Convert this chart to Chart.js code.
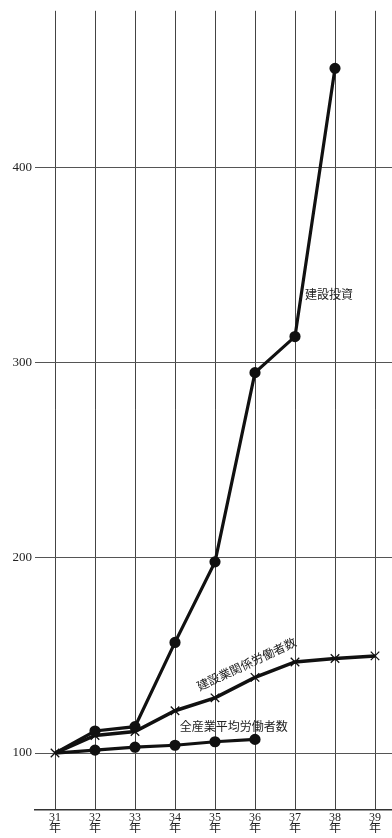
<!DOCTYPE html>
<html>
<head>
<meta charset="utf-8">
<script src="https://cdn.jsdelivr.net/npm/chart.js@4.4.0/dist/chart.umd.min.js"></script>
<style>
  html, body { margin: 0; padding: 0; background: #fff; overflow: hidden; }
  #wrap { width: 392px; height: 838px; position: relative; }
  canvas { display: block; }
</style>
</head>
<body>
<div id="wrap"><canvas id="myCanvas"></canvas></div>
<script>
// years (昭和)
const years = [31, 32, 33, 34, 35, 36, 37, 38, 39];
const yTicks = [100, 200, 300, 400];

// index, 31年 = 100
const kensetsuToshi = [100, 111.3, 113.5, 156.7, 198, 295, 313.5, 451];
const kensetsuRodo = [100, 109, 111, 121.7, 128.3, 138.8, 146.7, 148.5, 149.8];
const zensangyoRodo = [100, 101.5, 103, 104, 105.8, 107];

const seriesNames = ["建設投資", "建設業関係労働者数", "全産業平均労働者数"];

const toPoints = (arr) => arr.map((v, i) => ({ x: years[i], y: v }));

const cjk = "'Liberation Serif', 'Noto Sans CJK JP', serif";

// text labels placed next to the lines (data coordinates)
const lineLabels = [
  { text: seriesNames[0], x: 37.25, y: 334.5, align: "left", rot: 0 },
  { text: seriesNames[1], x: 35.8, y: 145, align: "center", rot: -25 },
  { text: seriesNames[2], x: 34.12, y: 113, align: "left", rot: 0 },
];

const labelPlugin = {
  id: "lineLabels",
  afterDatasetsDraw(chart) {
    const ctx = chart.ctx;
    const xs = chart.scales.x;
    const ys = chart.scales.y;
    ctx.save();
    ctx.fillStyle = "#222";
    ctx.font = "12px " + cjk;
    ctx.textBaseline = "middle";
    lineLabels.forEach((l) => {
      ctx.save();
      ctx.translate(xs.getPixelForValue(l.x), ys.getPixelForValue(l.y));
      ctx.rotate((l.rot * Math.PI) / 180);
      ctx.textAlign = l.align;
      ctx.fillText(l.text, 0, 0);
      ctx.restore();
    });
    ctx.restore();
  },
};

const circleRadius = (arr) => arr.map((v, i) => (i === 0 ? 0 : 4));

new Chart(document.getElementById("myCanvas"), {
  type: "line",
  data: {
    datasets: [
      {
        label: seriesNames[0],
        data: toPoints(kensetsuToshi),
        borderColor: "#111",
        backgroundColor: "#111",
        borderWidth: 3.2,
        pointRadius: circleRadius(kensetsuToshi),
        pointStyle: "circle",
        tension: 0,
      },
      {
        label: seriesNames[1],
        data: toPoints(kensetsuRodo),
        borderColor: "#111",
        backgroundColor: "#fff",
        borderWidth: 3.5,
        pointRadius: 6,
        pointStyle: "crossRot",
        pointBorderWidth: 1.3,
        tension: 0,
      },
      {
        label: seriesNames[2],
        data: toPoints(zensangyoRodo),
        borderColor: "#111",
        backgroundColor: "#111",
        borderWidth: 3.2,
        pointRadius: circleRadius(zensangyoRodo),
        pointStyle: "circle",
        tension: 0,
      },
    ],
  },
  options: {
    responsive: true,
    maintainAspectRatio: false,
    animation: false,
    layout: { autoPadding: false, padding: { top: 0, right: 0, left: 0, bottom: 0 } },
    plugins: {
      legend: { display: false },
      tooltip: { enabled: false },
    },
    scales: {
      x: {
        type: "linear",
        min: 30.5,
        max: 39.425,
        afterBuildTicks: (axis) => {
          axis.ticks = years.map((v) => ({ value: v }));
        },
        afterFit: (axis) => {
          axis.height = 28;
        },
        ticks: {
          padding: 2,
          maxRotation: 0,
          autoSkip: false,
          color: "#222",
          font: { family: cjk, size: 12, lineHeight: 0.95 },
          callback: (v) => [String(v), "年"],
        },
        grid: {
          color: "#444",
          lineWidth: 1,
          drawTicks: false,
        },
        border: { display: true, color: "#333", width: 1.5 },
      },
      y: {
        min: 70.8,
        max: 480.5,
        afterBuildTicks: (axis) => {
          axis.ticks = yTicks.map((v) => ({ value: v }));
        },
        afterFit: (axis) => {
          axis.width = 35;
        },
        ticks: {
          padding: 3,
          color: "#222",
          font: { family: "'Liberation Serif', serif", size: 13 },
        },
        grid: {
          color: "#555",
          lineWidth: 1,
          drawTicks: false,
        },
        border: { display: false },
      },
    },
  },
  plugins: [labelPlugin],
});
</script>
</body>
</html>
